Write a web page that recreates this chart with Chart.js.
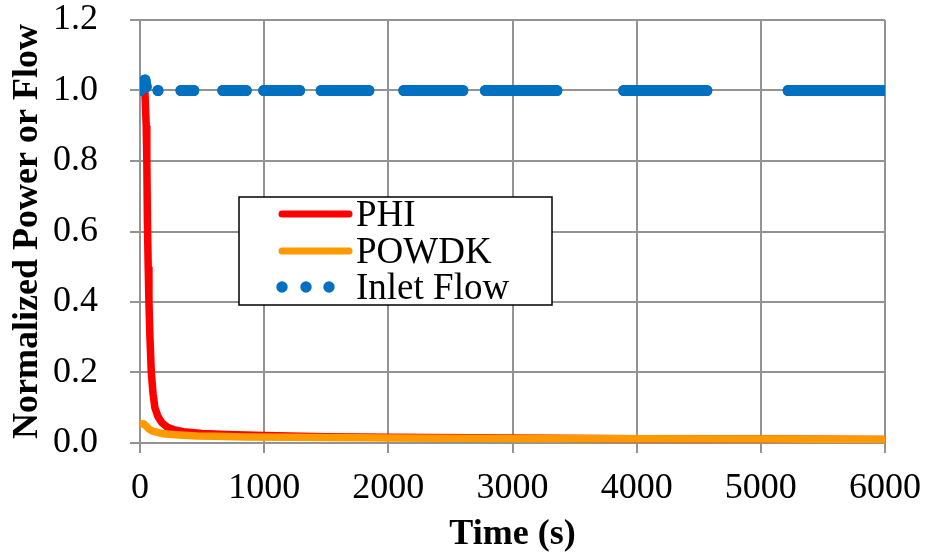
<!DOCTYPE html>
<html>
<head>
<meta charset="utf-8">
<script src="https://cdn.jsdelivr.net/npm/chart.js@4.4.1/dist/chart.umd.min.js"></script>
<style>
  body { margin: 0; background: #fff; }
</style>
</head>
<body>
<canvas id="myChart" width="932" height="556"></canvas>
<script>
// data
const phiTime = [0, 40, 50, 55, 60, 66, 72, 80, 91, 105, 120, 145, 175, 220, 270, 350, 500, 700, 1000, 1500, 2000, 3000, 4000, 5000, 6000];
const phiValue = [1.0, 0.99, 0.9, 0.8, 0.62, 0.5, 0.4, 0.3, 0.2, 0.14, 0.1, 0.075, 0.058, 0.045, 0.038, 0.032, 0.027, 0.024, 0.021, 0.018, 0.016, 0.014, 0.012, 0.011, 0.01];

const powTime = [0, 30, 50, 70, 100, 140, 190, 260, 350, 460, 600, 860, 1200, 2000, 3000, 4000, 5000, 6000];
const powValue = [0.055, 0.054, 0.048, 0.04, 0.034, 0.03, 0.026, 0.024, 0.022, 0.02, 0.019, 0.017, 0.016, 0.014, 0.013, 0.012, 0.011, 0.01];

// null = gap in the dotted inlet flow line
const flowTime = [0, 20, 40, 50, 95, 145, 240, 330, 433, 550, 667, 855, 925, 997, 1285, 1370, 1459, 1843, 1980, 2125, 2600, 2690, 2782, 3357, 3620, 3896, 4565, 4890, 5220, 6000];
const flowValue = [1.0, 1.01, 1.03, 1.01, null, 1.0, null, 1.0, 1.0, null, 1.0, 1.0, null, 1.0, 1.0, null, 1.0, 1.0, null, 1.0, 1.0, null, 1.0, 1.0, null, 1.0, 1.0, null, 1.0, 1.0];

const xTicks = [0, 1000, 2000, 3000, 4000, 5000, 6000];
const yTicks = [0, 0.2, 0.4, 0.6, 0.8, 1.0, 1.2];

const seriesNames = ['PHI', 'POWDK', 'Inlet Flow'];
const seriesColors = ['#ff0000', '#ff9900', '#0070c0'];

function pairs(t, v) {
	return t.map((x, i) => ({ x: x, y: v[i] }));
}

const FONT = '"Liberation Serif", "Times New Roman", serif';
const GRID = '#939393';

const legendBox = {
	id: 'legendBox',
	afterDraw(chart) {
		const c = chart.ctx;
		c.save();
		c.fillStyle = '#fff';
		c.fillRect(239, 197, 313, 108);
		c.strokeStyle = '#000';
		c.lineWidth = 1.5;
		c.strokeRect(239, 197, 313, 108);
		const rows = [214, 251, 287];
		c.lineCap = 'round';
		for (let i = 0; i < 2; i++) {
			c.strokeStyle = seriesColors[i];
			c.lineWidth = 7;
			c.beginPath();
			c.moveTo(282, rows[i]);
			c.lineTo(349, rows[i]);
			c.stroke();
		}
		c.fillStyle = seriesColors[2];
		[282, 306, 329].forEach((x) => {
			c.beginPath();
			c.arc(x, rows[2], 5.7, 0, Math.PI * 2);
			c.fill();
		});
		c.fillStyle = '#000';
		c.font = '37px ' + FONT;
		c.textBaseline = 'middle';
		seriesNames.forEach((n, i) => c.fillText(n, 356, rows[i] + 2));
		c.restore();
	}
};

const ctx = document.getElementById('myChart');

new Chart(ctx, {
	type: 'scatter',
	data: {
		datasets: [{
			label: seriesNames[0],
			data: pairs(phiTime, phiValue),
			showLine: true,
			borderColor: seriesColors[0],
			borderWidth: 7.5,
			pointRadius: 0,
			clip: 0,
			order: 3
		}, {
			label: seriesNames[1],
			data: pairs(powTime, powValue),
			showLine: true,
			borderColor: seriesColors[1],
			borderWidth: 7.5,
			pointRadius: 0,
			clip: 0,
			order: 2
		}, {
			label: seriesNames[2],
			data: pairs(flowTime, flowValue),
			showLine: true,
			spanGaps: false,
			borderColor: seriesColors[2],
			borderWidth: 11,
			borderCapStyle: 'round',
			borderJoinStyle: 'round',
			pointRadius: 5.5,
			pointBorderWidth: 0,
			pointBackgroundColor: seriesColors[2],
			clip: 0,
			order: 1
		}]
	},
	options: {
		responsive: false,
		animation: false,
		devicePixelRatio: 1,
		layout: { padding: { left: 0, right: 47, top: 20, bottom: 0 } },
		plugins: {
			legend: { display: false },
			tooltip: { enabled: false }
		},
		scales: {
			x: {
				type: 'linear',
				min: 0,
				max: 6000,
				afterBuildTicks: (s) => { s.ticks = xTicks.map((v) => ({ value: v })); },
				afterFit: (s) => { s.height = 113; s.paddingLeft = 0; s.paddingRight = 0; },
				ticks: {
					color: '#000',
					font: { family: FONT, size: 36 },
					padding: 14,
					maxRotation: 0,
					callback: (v) => String(v)
				},
				grid: { color: GRID, lineWidth: 2, tickLength: 10 },
				border: { color: GRID, width: 2 },
				title: {
					display: true,
					text: 'Time (s)',
					color: '#000',
					font: { family: FONT, size: 36, weight: 'bold' },
					padding: { top: 0, bottom: 0 }
				}
			},
			y: {
				min: 0,
				max: 1.2,
				afterBuildTicks: (s) => { s.ticks = yTicks.map((v) => ({ value: v })); },
				afterFit: (s) => { s.width = 140; s.paddingTop = 0; s.paddingBottom = 0; },
				ticks: {
					color: '#000',
					font: { family: FONT, size: 36 },
					padding: 32,
					callback: (v) => Number(v).toFixed(1)
				},
				grid: { color: GRID, lineWidth: 2, tickLength: 10 },
				border: { color: GRID, width: 2 },
				title: {
					display: true,
					text: 'Normalized Power or Flow',
					color: '#000',
					font: { family: FONT, size: 36, weight: 'bold' },
					padding: { top: 6, bottom: 0 }
				}
			}
		}
	},
	plugins: [legendBox]
});
</script>
</body>
</html>
